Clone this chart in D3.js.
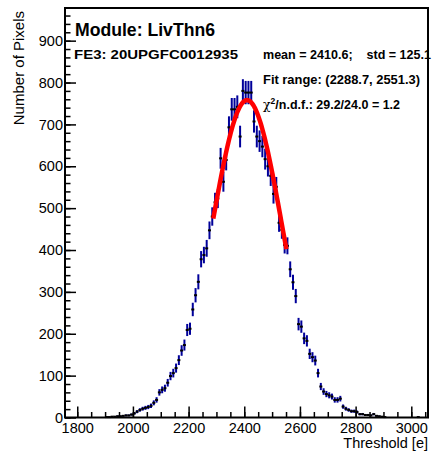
<!DOCTYPE html>
<html>
<head>
<meta charset="utf-8">
<script src="https://cdn.jsdelivr.net/npm/d3@7"></script>
<style>
  html, body { margin: 0; padding: 0; background: #fff; }
  svg { display: block; }
  text { font-family: "Liberation Sans", Arial, Helvetica, sans-serif; }
</style>
</head>
<body>
<svg id="chart" width="437" height="455"></svg>
<script>
// ---- data ----
const binCenters = [1905,1915,1925,1935,1945,1955,1965,1975,1985,1995,
  2005,2015,2025,2035,2045,2055,2065,2075,2085,2095,
  2105,2115,2125,2135,2145,2155,2165,2175,2185,2195,
  2205,2215,2225,2235,2245,2255,2265,2275,2285,2295,
  2305,2315,2325,2335,2345,2355,2365,2375,2385,2395,
  2405,2415,2425,2435,2445,2455,2465,2475,2485,2495,
  2505,2515,2525,2535,2545,2555,2565,2575,2585,2595,
  2605,2615,2625,2635,2645,2655,2665,2675,2685,2695,
  2705,2715,2725,2735,2745,2755,2765,2775,2785,2795,
  2805,2815,2825,2835,2845,2855,2865,2875,2885,2895,2905,3025];
const counts = [1,1,2,2,3,3,4,5,5,7,
  10,14,18,21,23,25,28,35,42,60,
  66,70,83,99,106,118,137,160,173,209,
  212,258,292,324,378,388,404,447,480,514,
  523,619,563,615,693,736,736,742,671,780,
  776,776,776,707,671,660,647,617,600,577,
  534,551,465,448,412,410,354,323,290,223,
  217,189,183,152,144,136,106,74,62,56,
  53,50,42,42,45,26,21,18,15,15,
  13,8,8,6,6,5,8,4,3,2,1,1];

const xDomain = [1756, 3060];
const yDomain = [0, 978];
const xMajorTicks = [1800,2000,2200,2400,2600,2800,3000];
const yMajorTicks = [0,100,200,300,400,500,600,700,800,900];

// Gaussian fit (estimated parameters) and its range
const fitParams = { constant: 758, mean: 2410, sigma: 125.5 };
const fitRange = [2288.7, 2551.3];

const titleModule = "Module: LivThn6";
const titleFE = "FE3: 20UPGFC0012935";
const statsLine = "mean = 2410.6;    std = 125.1";
const fitLine = "Fit range: (2288.7, 2551.3)";
const xTitle = "Threshold [e]";
const yTitle = "Number of Pixels";

// ---- drawing ----
const svg = d3.select("#chart");
const L = 65, R = 428, T = 8, B = 417.5;
const x = d3.scaleLinear().domain(xDomain).range([L, R]);
const y = d3.scaleLinear().domain(yDomain).range([B, T]);

svg.append("rect").attr("width", 437).attr("height", 455).attr("fill", "#fff");

// data error bars
const data = binCenters.map((c, i) => ({ c, n: counts[i] }));
const g = svg.append("g");
g.selectAll("line.err").data(data).join("line")
  .attr("class", "err")
  .attr("x1", d => x(d.c)).attr("x2", d => x(d.c))
  .attr("y1", d => Math.min(B, y(d.n - Math.sqrt(d.n))))
  .attr("y2", d => y(d.n + Math.sqrt(d.n)))
  .attr("stroke", "#00009a").attr("stroke-width", 2);
g.selectAll("rect.pt").data(data).join("rect")
  .attr("class", "pt")
  .attr("x", d => x(d.c) - 1.5).attr("y", d => y(d.n) - 1)
  .attr("width", 3).attr("height", 2)
  .attr("fill", "#000");

// fit curve
const fitX = d3.range(fitRange[0], fitRange[1] + 0.01, (fitRange[1] - fitRange[0]) / 100);
const gauss = v => fitParams.constant * Math.exp(-0.5 * Math.pow((v - fitParams.mean) / fitParams.sigma, 2));
svg.append("path")
  .datum(fitX)
  .attr("d", d3.line().x(v => x(v)).y(v => y(gauss(v))))
  .attr("fill", "none").attr("stroke", "#ff0000").attr("stroke-width", 4.5);

// axes (ticks inward)
const xMinor = d3.range(1800, 3060, 50);
const yMinor = d3.range(0, 978, 20);
const fontFam = "Liberation Sans, Arial, sans-serif";
svg.append("g").attr("transform", `translate(0,${B})`)
  .call(d3.axisBottom(x).tickValues(xMinor).tickSize(-5.5).tickFormat(""))
  .call(a => a.select(".domain").remove())
  .call(a => a.selectAll("line").attr("stroke-width", 1.5));
svg.append("g").attr("transform", `translate(0,${B})`)
  .call(d3.axisBottom(x).tickValues(xMajorTicks).tickSize(-11).tickPadding(5).tickFormat(d3.format("d")))
  .call(a => a.select(".domain").remove())
  .call(a => a.selectAll("line").attr("stroke-width", 1.5))
  .call(a => a.selectAll("text").attr("font-size", 14.5).attr("fill", "#000").attr("font-family", fontFam));
svg.append("g").attr("transform", `translate(${L},0)`)
  .call(d3.axisLeft(y).tickValues(yMinor).tickSize(-5.5).tickFormat(""))
  .call(a => a.select(".domain").remove())
  .call(a => a.selectAll("line").attr("stroke-width", 1.5));
svg.append("g").attr("transform", `translate(${L},0)`)
  .call(d3.axisLeft(y).tickValues(yMajorTicks).tickSize(-11).tickPadding(2).tickFormat(d3.format("d")))
  .call(a => a.select(".domain").remove())
  .call(a => a.selectAll("line").attr("stroke-width", 1.5))
  .call(a => a.selectAll("text").attr("font-size", 14.5).attr("fill", "#000").attr("font-family", fontFam));

// frame
svg.append("rect").attr("x", L).attr("y", T).attr("width", R - L).attr("height", B - T)
  .attr("fill", "none").attr("stroke", "#000").attr("stroke-width", 2);

// axis titles
svg.append("text").attr("x", R).attr("y", 448).attr("text-anchor", "end")
  .attr("font-size", 14.5).text(xTitle);
svg.append("text").attr("transform", "translate(24,11) rotate(-90)")
  .attr("text-anchor", "end").attr("font-size", 15).text(yTitle);

// annotations
svg.append("text").attr("x", 75).attr("y", 36).attr("font-weight", "bold")
  .attr("font-size", 18).attr("textLength", 140).attr("lengthAdjust", "spacingAndGlyphs").text(titleModule);
svg.append("text").attr("x", 74).attr("y", 59).attr("font-weight", "bold")
  .attr("font-size", 13.5).attr("textLength", 164).attr("lengthAdjust", "spacingAndGlyphs").text(titleFE);
svg.append("text").attr("x", 263).attr("y", 59).attr("font-weight", "bold")
  .attr("font-size", 12.5).style("white-space", "pre")
  .attr("textLength", 168).attr("lengthAdjust", "spacingAndGlyphs").text(statsLine);
svg.append("text").attr("x", 263).attr("y", 84).attr("font-weight", "bold")
  .attr("font-size", 12.5).attr("textLength", 157).attr("lengthAdjust", "spacingAndGlyphs").text(fitLine);
const chi = svg.append("text").attr("x", 263).attr("y", 109).attr("font-weight", "bold")
  .attr("font-size", 12.5);
chi.append("tspan").attr("font-weight", "normal").attr("font-family", "DejaVu Serif, serif").text("χ");
chi.append("tspan").attr("dy", -5).attr("font-size", 8.5).text("2");
chi.append("tspan").attr("dy", 5).text("/n.d.f.: 29.2/24.0 = 1.2");
</script>
</body>
</html>
